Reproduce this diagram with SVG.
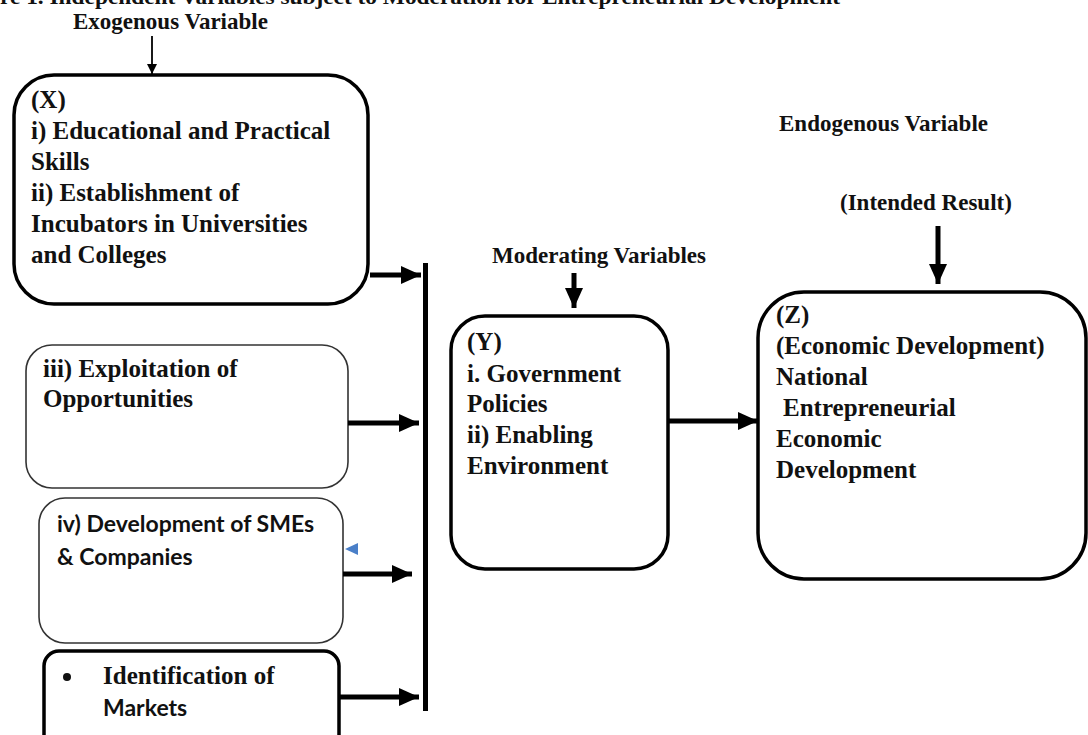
<svg xmlns="http://www.w3.org/2000/svg" width="1088" height="735" viewBox="0 0 1088 735">
<style>
.s{font-family:"Liberation Serif","Times New Roman",serif;font-weight:bold;fill:#111;}
.t{font-size:25px;}
.h{font-size:23px;}
.sans{font-family:Lato,"Open Sans","Liberation Sans",sans-serif;font-weight:bold;fill:#111;font-size:23px;}
.thick{fill:#fff;stroke:#000;stroke-width:3.5;}
.thin{fill:#fff;stroke:#333;stroke-width:1.6;}
.c{stroke:#000;stroke-width:5;fill:none;}
</style>
<defs>
<marker id="ah" markerUnits="userSpaceOnUse" markerWidth="22" markerHeight="20" refX="20" refY="10" orient="auto">
<path d="M0,1 L20,10 L0,19 Z" fill="#000"/>
</marker>
<marker id="ahs" markerUnits="userSpaceOnUse" markerWidth="12" markerHeight="12" refX="10" refY="6" orient="auto">
<path d="M0,1 L10,6 L0,11 Z" fill="#000"/>
</marker>
</defs>
<rect width="1088" height="735" fill="#fff"/>
<text class="s" x="0" y="4" font-size="22" textLength="840" lengthAdjust="spacingAndGlyphs">re 1. Independent Variables subject to Moderation for Entrepreneurial Development</text>
<g id="labels">
<text class="s h" x="73" y="29">Exogenous Variable</text>
<text class="s h" x="492" y="263">Moderating Variables</text>
<text class="s h" x="779" y="131">Endogenous Variable</text>
<text class="s h" x="840" y="210">(Intended Result)</text>
</g>
<g id="nodeX">
<rect class="thick" x="14" y="75" width="354" height="229" rx="40"/>
<text class="s t" x="31" y="108">(X)</text>
<text class="s t" x="31" y="139">i) Educational and Practical</text>
<text class="s t" x="31" y="170">Skills</text>
<text class="s t" x="31" y="201">ii) Establishment of</text>
<text class="s t" x="31" y="232">Incubators in Universities</text>
<text class="s t" x="31" y="263">and Colleges</text>
</g>
<g id="nodeIII">
<rect class="thin" x="26" y="345" width="322" height="143" rx="26"/>
<text class="s t" x="43" y="377">iii) Exploitation of</text>
<text class="s t" x="43" y="407">Opportunities</text>
</g>
<g id="nodeIV">
<rect class="thin" x="39" y="498" width="304" height="145" rx="26"/>
<text class="sans" x="57" y="532">iv) Development of SMEs</text>
<text class="sans" x="57" y="565">&amp; Companies</text>
<path d="M345,549 L358,543 L358,555 Z" fill="#4a7fc8"/>
</g>
<g id="nodeMarkets">
<rect class="thick" x="44" y="651" width="295" height="100" rx="15"/>
<circle cx="67" cy="677" r="4" fill="#111"/>
<text class="s t" x="103" y="684">Identification of</text>
<text class="sans" x="103" y="716">Markets</text>
</g>
<g id="nodeY">
<rect class="thick" x="451" y="316" width="217" height="253" rx="34"/>
<text class="s t" x="467" y="350">(Y)</text>
<text class="s t" x="467" y="382">i. Government</text>
<text class="s t" x="467" y="412">Policies</text>
<text class="s t" x="467" y="443">ii) Enabling</text>
<text class="s t" x="467" y="474">Environment</text>
</g>
<g id="nodeZ">
<rect class="thick" x="758" y="292" width="328" height="287" rx="46"/>
<text class="s t" x="776" y="323">(Z)</text>
<text class="s t" x="776" y="354">(Economic Development)</text>
<text class="s t" x="776" y="385">National</text>
<text class="s t" x="783" y="416">Entrepreneurial</text>
<text class="s t" x="776" y="447">Economic</text>
<text class="s t" x="776" y="478">Development</text>
</g>
<g id="connectors">
<rect x="423" y="263" width="5" height="448" fill="#000"/>
<line x1="152" y1="36" x2="152" y2="74" stroke="#000" stroke-width="1.8" marker-end="url(#ahs)"/>
<line class="c" x1="370" y1="275" x2="421" y2="275" marker-end="url(#ah)"/>
<line class="c" x1="348" y1="423" x2="419" y2="423" marker-end="url(#ah)"/>
<line class="c" x1="343" y1="574" x2="412" y2="574" marker-end="url(#ah)"/>
<line class="c" x1="339" y1="697" x2="419" y2="697" marker-end="url(#ah)"/>
<line class="c" x1="668" y1="421" x2="758" y2="421" marker-end="url(#ah)"/>
<line class="c" x1="574" y1="273" x2="574" y2="308" marker-end="url(#ah)"/>
<line class="c" x1="938" y1="226" x2="938" y2="284" marker-end="url(#ah)"/>
</g>
</svg>
